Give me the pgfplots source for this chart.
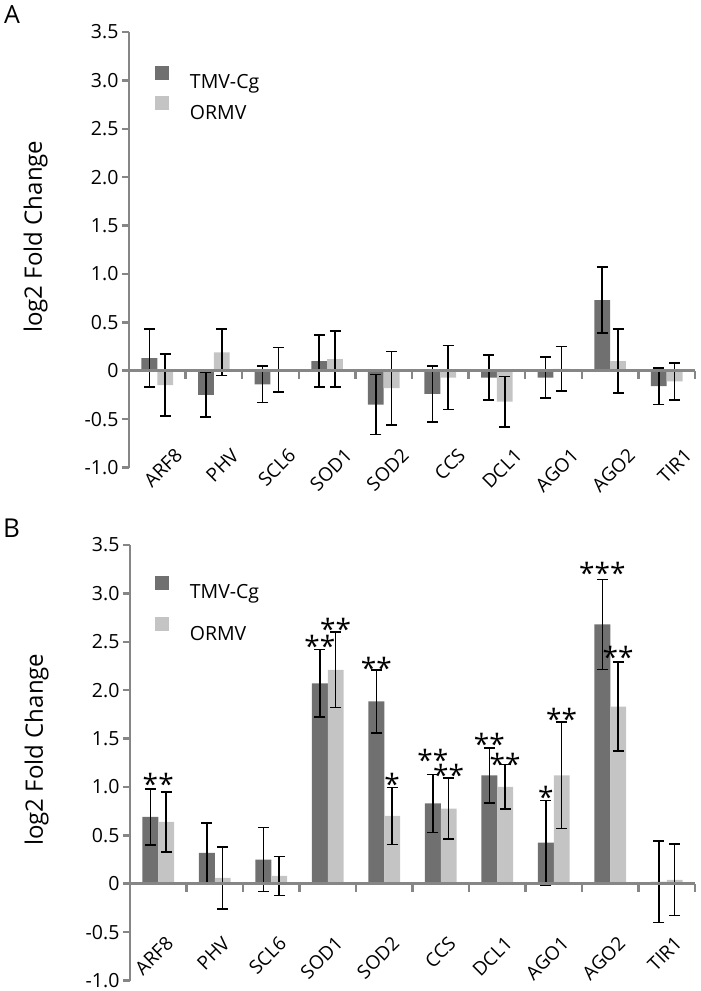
\documentclass[border=0pt]{standalone}
\usepackage{pgfplots}
\pgfplotsset{compat=1.18}
\usepackage{fontspec}
\setmainfont{Open Sans}
\definecolor{tmv}{HTML}{707070}
\definecolor{ormv}{HTML}{C4C4C4}
\definecolor{axgray}{HTML}{868686}

\pgfplotsset{
  mybase/.style={
    scale only axis, width=566pt, height=435.5pt,
    xmin=-0.5, xmax=9.5, ymin=-1, ymax=3.5,
    axis x line*=middle, axis y line*=left,
    axis on top,
    axis line style={draw=axgray, line width=2.6pt, -},
    xtick={0,1,2,3,4,5,6,7,8,9},
    xticklabels={ARF8,PHV,SCL6,SOD1,SOD2,CCS,DCL1,AGO1,AGO2,TIR1},
    major x tick style={draw=none},
    minor xtick={-0.5,0.5,1.5,2.5,3.5,4.5,5.5,6.5,7.5,8.5,9.5},
    minor x tick style={draw=axgray, line width=2.5pt},
    minor tick length=8pt,
    xtick align=outside,
    ytick={-1,-0.5,0,0.5,1,1.5,2,2.5,3,3.5},
    yticklabels={-1.0,-0.5,0,0.5,1.0,1.5,2.0,2.5,3.0,3.5},
    ytick align=outside,
    major tick length=7pt,
    y tick style={draw=axgray, line width=2.5pt},
    yticklabel style={font=\fontsize{19.5}{21}\selectfont},
    ylabel={log2 Fold Change},
    every axis y label/.style={at={(axis description cs:-0.154,0.53)}, rotate=90, anchor=base, font=\fontsize{24}{27}\selectfont},
    legend cell align=left,
    legend image code/.code={\fill[##1] (0pt,2pt) rectangle (14pt,16pt);},
    legend style={draw=none, fill=none, inner sep=0pt, outer sep=0pt, anchor=north west,
      font=\fontsize{19.5}{21}\selectfont, column sep=21pt,
      nodes={inner sep=0pt, text height=18pt, text depth=4pt}},
    error bars/y dir=both, error bars/y explicit,
    error bars/error bar style={black, line width=1.6pt},
    error bars/error mark options={rotate=90, black, line width=1.6pt, mark size=5.5pt},
  },
  tmvbar/.style={ybar, bar width=0.28, bar shift=0pt, fill=tmv, draw=none},
  ormvbar/.style={ybar, bar width=0.28, bar shift=0pt, fill=ormv, draw=none},
  stars/.style={only marks, mark=*, mark size=0pt, mark options={draw=none, fill=none}, forget plot,
    nodes near coords, point meta=explicit symbolic,
    every node near coord/.style={anchor=center, inner sep=0pt, yshift=-6.5pt, font=\fontsize{28}{28}\selectfont}},
}

\begin{document}
\begin{tikzpicture}
\useasboundingbox (0pt,0pt) rectangle (701pt,-991pt);

% ---------------- Panel A ----------------
\begin{axis}[mybase, at={(129pt,-467.5pt)}, anchor=south west,
  xticklabel style={xshift=24pt, yshift=-72pt, rotate=45, anchor=east, font=\fontsize{19}{21}\selectfont},
  legend style={at={(axis description cs:0.0459,0.922)}, row sep=3.3pt}]
\addplot[tmvbar] coordinates {
 (-0.14,0.13) +- (0,0.30)
 (0.86,-0.25) +- (0,0.23)
 (1.86,-0.14) +- (0,0.19)
 (2.86,0.10) +- (0,0.27)
 (3.86,-0.35) +- (0,0.31)
 (4.86,-0.24) +- (0,0.29)
 (5.86,-0.07) +- (0,0.23)
 (6.86,-0.07) +- (0,0.21)
 (7.86,0.73) +- (0,0.34)
 (8.86,-0.16) +- (0,0.19)
};
\addlegendentry{TMV-Cg}
\addplot[ormvbar] coordinates {
 (0.14,-0.15) +- (0,0.32)
 (1.14,0.19) +- (0,0.24)
 (2.14,0.01) +- (0,0.23)
 (3.14,0.12) +- (0,0.29)
 (4.14,-0.18) +- (0,0.38)
 (5.14,-0.07) +- (0,0.33)
 (6.14,-0.32) +- (0,0.26)
 (7.14,0.02) +- (0,0.23)
 (8.14,0.10) +- (0,0.33)
 (9.14,-0.11) +- (0,0.19)
};
\addlegendentry{ORMV}
\end{axis}

% ---------------- Panel B ----------------
\begin{axis}[mybase, at={(130pt,-980.5pt)}, anchor=south west, width=565pt,
  xticklabel style={xshift=14pt, yshift=-47pt, rotate=45, anchor=east, font=\fontsize{19}{21}\selectfont},
  legend style={at={(axis description cs:0.044,0.929)}, row sep=14.3pt}]
\addplot[tmvbar] coordinates {
 (-0.14,0.69) +- (0,0.29)
 (0.86,0.32) +- (0,0.31)
 (1.86,0.25) +- (0,0.33)
 (2.86,2.07) +- (0,0.35)
 (3.86,1.885) +- (0,0.325)
 (4.86,0.83) +- (0,0.30)
 (5.86,1.12) +- (0,0.285)
 (6.86,0.425) +- (0,0.435)
 (7.86,2.68) +- (0,0.465)
 (8.86,0.02) +- (0,0.42)
};
\addlegendentry{TMV-Cg}
\addplot[ormvbar] coordinates {
 (0.14,0.64) +- (0,0.31)
 (1.14,0.06) +- (0,0.32)
 (2.14,0.08) +- (0,0.20)
 (3.14,2.21) +- (0,0.39)
 (4.14,0.70) +- (0,0.295)
 (5.14,0.775) +- (0,0.315)
 (6.14,1.00) +- (0,0.23)
 (7.14,1.12) +- (0,0.55)
 (8.14,1.83) +- (0,0.46)
 (9.14,0.04) +- (0,0.37)
};
\addlegendentry{ORMV}
\addplot[stars] coordinates {
 (-0.14,1.10) [*]
 (0.14,1.10) [*]
 (2.86,2.52) [**]
 (3.14,2.70) [**]
 (3.86,2.30) [**]
 (4.14,1.10) [*]
 (4.86,1.345) [**]
 (5.14,1.19) [**]
 (5.86,1.51) [**]
 (6.14,1.31) [**]
 (6.86,0.96) [*]
 (7.14,1.77) [**]
 (7.86,3.28) [***]
 (8.14,2.41) [**]
};
\end{axis}

\node[anchor=base west, font=\fontsize{25}{25}\selectfont, inner sep=0pt] at (4pt,-23pt) {A};
\node[anchor=base west, font=\fontsize{26}{26}\selectfont, inner sep=0pt] at (3pt,-537pt) {B};
\end{tikzpicture}
\end{document}
